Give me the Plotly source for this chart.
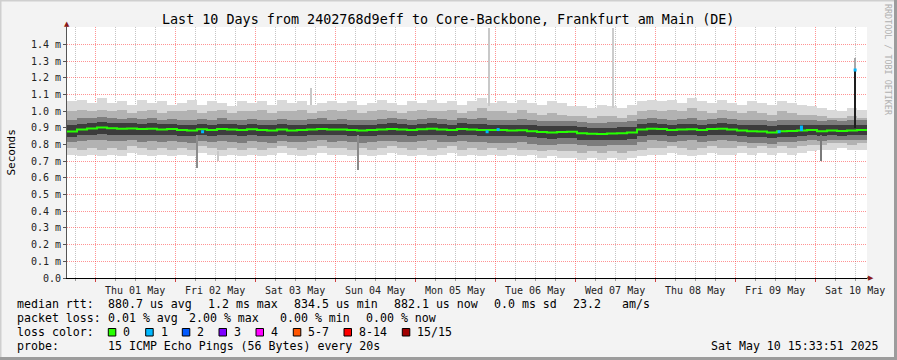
import plotly.graph_objects as go
import pandas as pd

# ---------------- data (values in ms) ----------------
START = "2025-04-30 15:33:51"
END = "2025-05-10 15:33:51"
N_BUCKETS = 80
BUCKET_HOURS = 3

median = [0.878, 0.890, 0.897,
          0.902, 0.898, 0.895, 0.897, 0.893, 0.895, 0.890, 0.893,
          0.888, 0.885, 0.892, 0.888, 0.893, 0.890, 0.887, 0.892,
          0.888, 0.885, 0.890, 0.885, 0.888, 0.890, 0.893, 0.890,
          0.890, 0.888, 0.885, 0.887, 0.890, 0.893, 0.890, 0.888,
          0.892, 0.895, 0.890, 0.888, 0.893, 0.890, 0.888, 0.887,
          0.887, 0.885, 0.886, 0.880, 0.875, 0.873, 0.875, 0.877,
          0.868, 0.865, 0.863, 0.866, 0.868, 0.872, 0.890, 0.895,
          0.893, 0.888, 0.890, 0.892, 0.888, 0.893, 0.895, 0.890,
          0.885, 0.880, 0.878, 0.872, 0.880, 0.882, 0.885, 0.888,
          0.880, 0.885, 0.882, 0.885, 0.888]

smoke_max = [1.06, 1.07, 1.05,
             1.08, 1.05, 1.06, 1.04, 1.07, 1.05, 1.06, 1.04,
             1.05, 1.07, 1.04, 1.06, 1.05, 1.03, 1.06, 1.05,
             1.06, 1.04, 1.07, 1.05, 1.06, 1.04, 1.05, 1.06,
             1.05, 1.06, 1.04, 1.05, 1.07, 1.05, 1.04, 1.06,
             1.05, 1.07, 1.05, 1.06, 1.04, 1.06, 1.08, 1.05,
             1.06, 1.05, 1.07, 1.05, 1.04, 1.06, 1.05, 1.03,
             1.03, 1.02, 1.04, 1.03, 1.02, 1.04, 1.06, 1.07,
             1.06, 1.07, 1.05, 1.08, 1.06, 1.05, 1.07, 1.05,
             1.04, 1.06, 1.05, 1.04, 1.06, 1.05, 1.04, 1.03,
             1.02, 1.01, 1.00, 1.02, 1.01]

smoke_min = [0.74, 0.73, 0.74,
             0.73, 0.74, 0.73, 0.75, 0.74, 0.73, 0.74, 0.73,
             0.74, 0.73, 0.75, 0.74, 0.73, 0.74, 0.73, 0.74,
             0.73, 0.74, 0.75, 0.74, 0.73, 0.74, 0.75, 0.74,
             0.74, 0.73, 0.74, 0.73, 0.74, 0.75, 0.74, 0.73,
             0.74, 0.73, 0.74, 0.75, 0.73, 0.74, 0.73, 0.74,
             0.73, 0.74, 0.73, 0.74, 0.72, 0.73, 0.72, 0.72,
             0.71, 0.72, 0.71, 0.72, 0.71, 0.72, 0.73, 0.74,
             0.74, 0.75, 0.74, 0.73, 0.74, 0.75, 0.74, 0.74,
             0.75, 0.74, 0.75, 0.74, 0.75, 0.74, 0.75, 0.76,
             0.77, 0.77, 0.78, 0.77, 0.77]

smoke_hi2 = [1.00, 1.01, 1.00,
             1.01, 1.00, 1.01, 0.99, 1.00, 1.01, 0.99, 1.00,
             1.00, 1.01, 0.99, 1.00, 1.01, 0.99, 1.00, 1.00,
             1.01, 0.99, 1.00, 1.00, 1.01, 0.99, 1.00, 1.01,
             1.00, 1.01, 0.99, 1.00, 1.01, 1.00, 0.99, 1.00,
             1.01, 1.00, 1.00, 1.01, 0.99, 1.00, 1.02, 1.00,
             1.00, 0.99, 1.01, 0.99, 0.98, 0.99, 0.98, 0.97,
             0.97, 0.96, 0.97, 0.97, 0.96, 0.98, 1.00, 1.01,
             1.00, 1.01, 1.00, 1.02, 1.00, 0.99, 1.01, 1.00,
             0.99, 1.00, 0.99, 0.98, 1.00, 0.99, 0.98, 0.98,
             0.97, 0.96, 0.96, 0.97, 0.96]

smoke_lo2 = [0.78, 0.77, 0.78,
             0.77, 0.78, 0.77, 0.79, 0.78, 0.77, 0.78, 0.77,
             0.78, 0.77, 0.79, 0.78, 0.77, 0.78, 0.77, 0.78,
             0.77, 0.78, 0.79, 0.78, 0.77, 0.78, 0.79, 0.78,
             0.78, 0.77, 0.78, 0.77, 0.78, 0.79, 0.78, 0.77,
             0.78, 0.77, 0.78, 0.79, 0.77, 0.78, 0.77, 0.78,
             0.77, 0.78, 0.77, 0.77, 0.76, 0.77, 0.76, 0.76,
             0.75, 0.76, 0.75, 0.76, 0.75, 0.76, 0.77, 0.78,
             0.78, 0.79, 0.78, 0.77, 0.78, 0.79, 0.78, 0.78,
             0.79, 0.78, 0.79, 0.78, 0.79, 0.78, 0.79, 0.80,
             0.80, 0.81, 0.81, 0.80, 0.81]

smoke_hi3 = [0.950, 0.960, 0.960,
             0.965, 0.960, 0.955, 0.960, 0.955, 0.960, 0.950, 0.955,
             0.950, 0.950, 0.955, 0.950, 0.960, 0.950, 0.950, 0.955,
             0.950, 0.945, 0.955, 0.950, 0.950, 0.955, 0.960, 0.950,
             0.955, 0.950, 0.945, 0.950, 0.955, 0.960, 0.955, 0.950,
             0.955, 0.960, 0.955, 0.950, 0.960, 0.955, 0.960, 0.950,
             0.950, 0.950, 0.955, 0.945, 0.940, 0.940, 0.940, 0.940,
             0.935, 0.930, 0.930, 0.935, 0.935, 0.940, 0.955, 0.960,
             0.955, 0.950, 0.955, 0.960, 0.950, 0.955, 0.960, 0.955,
             0.950, 0.945, 0.945, 0.940, 0.945, 0.945, 0.950, 0.950,
             0.940, 0.945, 0.940, 0.945, 0.945]

smoke_lo3 = [0.815, 0.820, 0.825,
             0.825, 0.820, 0.820, 0.825, 0.815, 0.820, 0.815, 0.820,
             0.815, 0.810, 0.820, 0.815, 0.820, 0.815, 0.810, 0.820,
             0.815, 0.810, 0.820, 0.815, 0.815, 0.820, 0.825, 0.815,
             0.820, 0.815, 0.810, 0.815, 0.820, 0.820, 0.815, 0.815,
             0.820, 0.825, 0.815, 0.815, 0.820, 0.815, 0.815, 0.810,
             0.810, 0.810, 0.815, 0.805, 0.800, 0.800, 0.805, 0.805,
             0.795, 0.790, 0.790, 0.795, 0.795, 0.800, 0.815, 0.825,
             0.820, 0.815, 0.820, 0.825, 0.815, 0.820, 0.825, 0.820,
             0.815, 0.810, 0.810, 0.805, 0.815, 0.815, 0.820, 0.825,
             0.820, 0.825, 0.825, 0.825, 0.830]

smoke_hi4 = [0.915, 0.925, 0.930,
             0.935, 0.930, 0.930, 0.930, 0.925, 0.930, 0.925, 0.925,
             0.920, 0.920, 0.925, 0.920, 0.925, 0.925, 0.920, 0.925,
             0.920, 0.920, 0.925, 0.920, 0.920, 0.925, 0.925, 0.925,
             0.925, 0.920, 0.920, 0.920, 0.925, 0.930, 0.925, 0.920,
             0.925, 0.930, 0.925, 0.920, 0.930, 0.925, 0.925, 0.920,
             0.920, 0.920, 0.920, 0.915, 0.910, 0.910, 0.910, 0.910,
             0.905, 0.900, 0.900, 0.900, 0.905, 0.905, 0.925, 0.930,
             0.925, 0.920, 0.925, 0.925, 0.920, 0.925, 0.930, 0.925,
             0.920, 0.915, 0.915, 0.910, 0.915, 0.915, 0.920, 0.920,
             0.915, 0.920, 0.915, 0.920, 0.920]

smoke_lo4 = [0.845, 0.855, 0.860,
             0.865, 0.860, 0.860, 0.860, 0.855, 0.860, 0.855, 0.855,
             0.850, 0.850, 0.855, 0.850, 0.855, 0.855, 0.850, 0.855,
             0.850, 0.850, 0.855, 0.850, 0.850, 0.855, 0.855, 0.855,
             0.855, 0.850, 0.850, 0.850, 0.855, 0.855, 0.855, 0.850,
             0.855, 0.860, 0.855, 0.850, 0.855, 0.855, 0.850, 0.850,
             0.850, 0.850, 0.850, 0.845, 0.840, 0.835, 0.840, 0.840,
             0.830, 0.825, 0.825, 0.830, 0.830, 0.835, 0.850, 0.860,
             0.855, 0.850, 0.855, 0.855, 0.850, 0.855, 0.860, 0.855,
             0.850, 0.845, 0.845, 0.840, 0.845, 0.845, 0.850, 0.855,
             0.850, 0.855, 0.850, 0.855, 0.855]

# isolated outliers (time, low, high)
spike_time = ["2025-05-02 06:34", "2025-05-02 12:52", "2025-05-03 16:48",
              "2025-05-04 06:54", "2025-05-05 22:12", "2025-05-07 11:24",
              "2025-05-10 01:48", "2025-05-10 12:00", "2025-05-10 12:00"]
spike_lo = [0.66, 0.70, 1.04, 0.65, 1.03, 1.02, 0.70, 1.247, 0.90]
spike_hi = [0.86, 0.76, 1.14, 0.86, 1.50, 1.50, 0.86, 1.32, 1.247]
spike_shade = ["#8c8c8c", "#c8c8c8", "#c8c8c8", "#8a8a8a", "#c8c8c8",
               "#cccccc", "#7a7a7a", "#a8a8a8", "#1e1e1e"]

# median samples with 1/15 packet loss
loss1_time = ["2025-05-02 08:14", "2025-05-05 21:36", "2025-05-06 00:54",
              "2025-05-09 13:12", "2025-05-09 19:54", "2025-05-09 19:54",
              "2025-05-10 12:00"]
loss1_value = [0.877, 0.877, 0.890, 0.877, 0.890, 0.905, 1.247]

y_ticks = [0.0, 0.1, 0.2, 0.3, 0.4, 0.5, 0.6, 0.7, 0.8, 0.9, 1.0, 1.1, 1.2, 1.3, 1.4]
y_ticktext = ["0.0"] + [f"{v:.1f} m" for v in y_ticks[1:]]

title = "Last 10 Days from 2402768d9eff to Core-Backbone, Frankfurt am Main (DE)"
legend_rows = [
    [(16, "median rtt:"), (107.3, "880.7 us avg"), (207.3, "1.2 ms max"),
     (293.3, "834.5 us min"), (393.3, "882.1 us now"), (493.3, "0.0 ms sd"),
     (572.3, "23.2"), (621.7, "am/s")],
    [(16, "packet loss:"), (107.3, "0.01 % avg"), (188.3, "2.00 % max"),
     (279, "0.00 % min"), (365.7, "0.00 % now")],
    [(16, "loss color:")],
    [(16, "probe:"), (107.3, "15 ICMP Echo Pings (56 Bytes) every 20s")],
]
loss_labels = ["0", "1", "2", "3", "4", "5-7", "8-14", "15/15"]
loss_colors = ["#26ff00", "#00b8ff", "#0059ff", "#7e00ff", "#ff00ff",
               "#ff5500", "#ff0000", "#a10000"]
loss_box_x = [108.3, 145.7, 182.3, 219, 256, 293.3, 344, 402.3]
timestamp = "Sat May 10 15:33:51 2025"

# ---------------- geometry ----------------
W, H = 897, 360
ML, MR, MT, MB = 67, 30, 27, 82
PW = W - ML - MR
PH = H - MT - MB
PLOT_BOTTOM = H - MB


def px(x):
    return (x - ML) / PW


def py(y):
    return (PLOT_BOTTOM - y) / PH


MONO = "DejaVu Sans Mono"

start = pd.Timestamp(START)
end = pd.Timestamp(END)
bucket = pd.Timedelta(hours=BUCKET_HOURS)
centers = pd.date_range(start + bucket / 2, periods=N_BUCKETS, freq=bucket)
bw = bucket.total_seconds() * 1000

fig = go.Figure()

layers = [
    (smoke_min, smoke_max, "#d9d9d9"),
    (smoke_lo2, smoke_hi2, "#b2b2b2"),
    (smoke_lo3, smoke_hi3, "#7d7d7d"),
    (smoke_lo4, smoke_hi4, "#3c3c3c"),
]
for lo, hi, col in layers:
    fig.add_trace(go.Bar(
        x=centers, base=lo, y=[h - l for l, h in zip(lo, hi)],
        width=[bw] * len(lo), marker=dict(color=col, line=dict(width=0)),
        hoverinfo="skip", showlegend=False))

fig.add_trace(go.Bar(
    x=pd.to_datetime(spike_time), base=spike_lo,
    y=[h - l for l, h in zip(spike_lo, spike_hi)],
    width=[25 * 60 * 1000] * len(spike_lo),
    marker=dict(color=spike_shade, line=dict(width=0)),
    hoverinfo="skip", showlegend=False))

med_x = [start] + list(centers) + [end]
med_y = [median[0]] + median + [median[-1]]
fig.add_trace(go.Scatter(
    x=med_x, y=med_y, mode="lines", line=dict(color="#26ff00", width=2, shape="hvh"),
    hoverinfo="skip", showlegend=False))

fig.add_trace(go.Scatter(
    x=pd.to_datetime(loss1_time), y=loss1_value, mode="markers",
    marker=dict(symbol="square", size=3, color="#00b8ff", line=dict(width=0)),
    hoverinfo="skip", showlegend=False))

annotations = []
shapes = []

# title
annotations.append(dict(x=px(448), y=py(19), xref="paper", yref="paper", text=title,
                        showarrow=False, xanchor="center", yanchor="middle",
                        font=dict(family=MONO, size=13.4, color="#000")))
# y label
annotations.append(dict(x=px(11), y=0.5, xref="paper", yref="paper", text="Seconds",
                        showarrow=False, textangle=-90, xanchor="center", yanchor="middle",
                        font=dict(family=MONO, size=11, color="#000")))
# rrdtool watermark
annotations.append(dict(x=px(888), y=py(60), xref="paper", yref="paper",
                        text="RRDTOOL / TOBI OETIKER", showarrow=False, textangle=90,
                        xanchor="center", yanchor="middle",
                        font=dict(family=MONO, size=8.4, color="#b0b0b0")))
# axis arrows
annotations.append(dict(x=px(67), y=py(24), xref="paper", yref="paper", text="▲",
                        showarrow=False, xanchor="center", yanchor="middle",
                        font=dict(family="DejaVu Sans", size=7, color="#8b1a1a")))
annotations.append(dict(x=px(871), y=py(278), xref="paper", yref="paper", text="▶",
                        showarrow=False, xanchor="center", yanchor="middle",
                        font=dict(family="DejaVu Sans", size=7, color="#8b1a1a")))

row_y = [304, 318, 332, 346]
for ry, row in zip(row_y, legend_rows):
    for x0, s in row:
        annotations.append(dict(x=px(x0 - 1.5), y=py(ry), xref="paper", yref="paper",
                                text=s.replace(" ", "&nbsp;"), showarrow=False,
                                xanchor="left", yanchor="middle",
                                font=dict(family=MONO, size=11.6, color="#000")))
for bx, lab, col in zip(loss_box_x, loss_labels, loss_colors):
    shapes.append(dict(type="rect", xref="paper", yref="paper",
                       x0=px(bx), x1=px(bx + 7.5), y0=py(336), y1=py(328.5),
                       fillcolor=col, line=dict(color="#000", width=1)))
    annotations.append(dict(x=px(bx + 13), y=py(332), xref="paper", yref="paper",
                            text=lab, showarrow=False, xanchor="left", yanchor="middle",
                            font=dict(family=MONO, size=11.6, color="#000")))
annotations.append(dict(x=px(881), y=py(346), xref="paper", yref="paper", text=timestamp,
                        showarrow=False, xanchor="right", yanchor="middle",
                        font=dict(family=MONO, size=11.6, color="#000")))

# y axis extension up to arrow, x axis extension to arrow
shapes.append(dict(type="line", xref="paper", yref="paper", x0=0, x1=0, y0=1, y1=py(24),
                   line=dict(color="#555", width=1)))
shapes.append(dict(type="line", xref="paper", yref="paper", x0=1, x1=px(870), y0=0, y1=0,
                   line=dict(color="#000", width=1)))
# 3D frame
shapes.append(dict(type="line", xref="paper", yref="paper", x0=px(0), x1=px(W), y0=py(0.5), y1=py(0.5),
                   line=dict(color="#cfcfcf", width=2)))
shapes.append(dict(type="line", xref="paper", yref="paper", x0=px(0.5), x1=px(0.5), y0=py(0), y1=py(H),
                   line=dict(color="#cfcfcf", width=2)))
shapes.append(dict(type="line", xref="paper", yref="paper", x0=px(0), x1=px(W), y0=py(H - 1.5), y1=py(H - 1.5),
                   line=dict(color="#9c9c9c", width=3)))
shapes.append(dict(type="line", xref="paper", yref="paper", x0=px(W - 1.5), x1=px(W - 1.5), y0=py(0), y1=py(H),
                   line=dict(color="#9c9c9c", width=3)))

fig.update_layout(
    width=W, height=H, autosize=False,
    margin=dict(l=ML, r=MR, t=MT, b=MB, pad=0),
    paper_bgcolor="#f3f3f3", plot_bgcolor="#ffffff",
    barmode="overlay", bargap=0,
    showlegend=False, hovermode=False,
    annotations=annotations, shapes=shapes,
    xaxis=dict(
        type="date", range=[start, end],
        tick0="2025-05-01 00:00:00", dtick=86400000,
        ticklabelmode="period", tickformat="%a %d %b",
        tickfont=dict(family=MONO, size=10, color="#222"),
        showgrid=True, gridcolor="rgba(255,40,40,0.5)", griddash="1px,1px", gridwidth=1,
        minor=dict(dtick=6 * 3600 * 1000, showgrid=True, gridcolor="rgba(150,150,150,0.55)",
                   griddash="1px,1px", ticks="outside", ticklen=2, tickcolor="#999"),
        ticks="outside", ticklen=3, tickcolor="#d04040",
        showline=True, linecolor="#000", linewidth=1, zeroline=False,
        fixedrange=True, automargin=False,
    ),
    yaxis=dict(
        range=[0, 1.505], tickmode="array", tickvals=y_ticks, ticktext=y_ticktext,
        tickfont=dict(family=MONO, size=10, color="#222"),
        showgrid=True, gridcolor="rgba(255,40,40,0.5)", griddash="1px,1px", gridwidth=1,
        ticks="outside", ticklen=3, tickcolor="#555",
        showline=True, linecolor="#555", linewidth=1, zeroline=False,
        fixedrange=True, automargin=False,
    ),
)

fig.write_html("out.html", config={"displayModeBar": False, "staticPlot": True},
               post_script="document.body.style.margin='0';")
